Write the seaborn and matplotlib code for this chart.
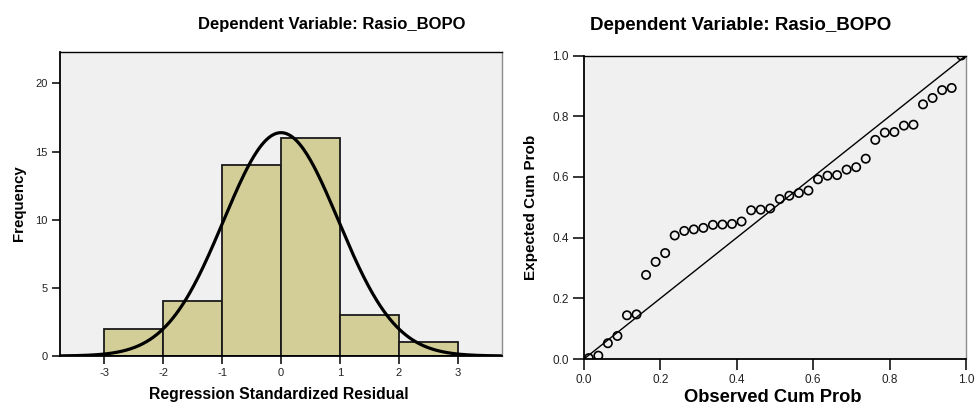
import numpy as np
import pandas as pd
import matplotlib
matplotlib.use("Agg")
import matplotlib.pyplot as plt
import seaborn as sns

# ---- data ----
bin_edges = [-3, -2, -1, 0, 1, 2, 3]
bin_centers = [-2.5, -1.5, -0.5, 0.5, 1.5, 2.5]
bin_counts = [2, 4, 14, 16, 3, 1]
resid_mean = 0.0
resid_sd = 0.974
resid_n = 40

observed_cum_prob = [0.0125, 0.0375, 0.0625, 0.0875, 0.1125, 0.1375, 0.1625, 0.1875,
                     0.2125, 0.2375, 0.2625, 0.2875, 0.3125, 0.3375, 0.3625, 0.3875,
                     0.4125, 0.4375, 0.4625, 0.4875, 0.5125, 0.5375, 0.5625, 0.5875,
                     0.6125, 0.6375, 0.6625, 0.6875, 0.7125, 0.7375, 0.7625, 0.7875,
                     0.8125, 0.8375, 0.8625, 0.8875, 0.9125, 0.9375, 0.9625, 0.9875]
expected_cum_prob = [0.003, 0.011, 0.052, 0.076, 0.144, 0.147, 0.277, 0.320,
                     0.349, 0.407, 0.422, 0.427, 0.432, 0.442, 0.443, 0.445,
                     0.453, 0.490, 0.492, 0.496, 0.527, 0.538, 0.547, 0.555,
                     0.592, 0.604, 0.606, 0.624, 0.632, 0.660, 0.722, 0.746,
                     0.748, 0.769, 0.772, 0.839, 0.860, 0.886, 0.893, 1.000]

hist_ticks = [-3, -2, -1, 0, 1, 2, 3]
freq_ticks = [0, 5, 10, 15, 20]
prob_ticks = [0.0, 0.2, 0.4, 0.6, 0.8, 1.0]

title_text = "Dependent Variable: Rasio_BOPO"

# ---- style ----
sns.set_style("white")
plt.rcParams["font.family"] = ["Liberation Sans", "DejaVu Sans"]
plt.rcParams["text.color"] = "black"

W, H = 977, 405
fig = plt.figure(figsize=(W / 100, H / 100), dpi=100)
fig.patch.set_facecolor("white")

def fx(px):
    return px / W

def fy(py):
    return 1 - py / H

ax1 = fig.add_axes([fx(60), fy(356), fx(502) - fx(60), fy(52) - fy(356)])
ax2 = fig.add_axes([fx(584), fy(359), fx(966) - fx(584), fy(55.5) - fy(359)])

for ax in (ax1, ax2):
    ax.set_facecolor("#F0F0F0")
    for s in ("left", "bottom", "top"):
        ax.spines[s].set_color("black")
    ax.spines["left"].set_linewidth(1.3)
    ax.spines["bottom"].set_linewidth(1.3)
    ax.spines["top"].set_linewidth(1.0)
    ax.spines["right"].set_color("#8C8C8C")
    ax.spines["right"].set_linewidth(1.0)

# ---- histogram ----
hist_df = pd.DataFrame({"resid": bin_centers, "count": bin_counts})
sns.histplot(data=hist_df, x="resid", weights="count", bins=bin_edges, ax=ax1,
             color="#D3CE97", edgecolor="#1A1A1A", linewidth=1.3, alpha=1.0)
xs = np.linspace(-3.75, 3.75, 400)
ys = resid_n * 1.0 / (resid_sd * np.sqrt(2 * np.pi)) * np.exp(-0.5 * ((xs - resid_mean) / resid_sd) ** 2)
sns.lineplot(x=xs, y=ys, ax=ax1, color="black", linewidth=2.3)
ax1.set_xlim(-3.75, 3.75)
ax1.set_ylim(0, 22.3)
ax1.set_xticks(hist_ticks)
ax1.set_xticklabels([str(t) for t in hist_ticks])
ax1.set_yticks(freq_ticks)
ax1.set_xlabel("")
ax1.set_ylabel("")
ax1.tick_params(axis="both", direction="out", length=6, width=1.1, colors="black",
                labelsize=8, labelcolor="#222222", bottom=True, left=True, pad=3)

# ---- P-P plot ----
pp_df = pd.DataFrame({"obs": observed_cum_prob, "exp": expected_cum_prob})
sns.lineplot(x=[0, 1], y=[0, 1], ax=ax2, color="black", linewidth=1.0)
sns.scatterplot(data=pp_df, x="obs", y="exp", ax=ax2, marker="o", s=36,
                facecolors="none", edgecolor="black", linewidth=1.2, zorder=3)
ax2.set_xlim(0, 1)
ax2.set_ylim(0, 1)
ax2.set_xticks(prob_ticks)
ax2.set_yticks(prob_ticks)
ax2.set_xticklabels([f"{t:.1f}" for t in prob_ticks])
ax2.set_yticklabels([f"{t:.1f}" for t in prob_ticks])
ax2.set_xlabel("")
ax2.set_ylabel("")
ax2.tick_params(axis="both", direction="out", length=8, width=1.1, colors="black",
                labelsize=8.5, labelcolor="#222222", bottom=True, left=True, pad=3)

# ---- text ----
fig.text(fx(332), fy(24), title_text, ha="center", va="center",
         fontsize=12, fontweight="bold", color="black")
fig.text(fx(741), fy(25), title_text, ha="center", va="center",
         fontsize=13.5, fontweight="bold", color="black")
fig.text(fx(19), fy(203), "Frequency", ha="center", va="center", rotation=90,
         fontsize=10.8, fontweight="bold", color="black")
fig.text(fx(279), fy(395), "Regression Standardized Residual", ha="center", va="center",
         fontsize=11.3, fontweight="bold", color="black")
fig.text(fx(531), fy(207), "Expected Cum Prob", ha="center", va="center", rotation=90,
         fontsize=11, fontweight="bold", color="black")
fig.text(fx(773), fy(398), "Observed Cum Prob", ha="center", va="center",
         fontsize=13.2, fontweight="bold", color="black")

fig.savefig("out.png", dpi=100, facecolor="white")
